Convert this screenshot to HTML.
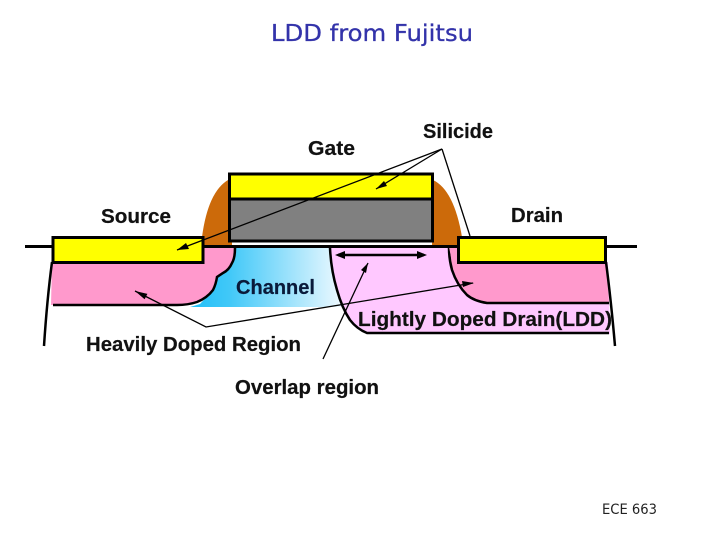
<!DOCTYPE html>
<html><head><meta charset="utf-8"><style>
html,body{margin:0;padding:0;background:#fff}
svg{display:block}
text{font-family:"Liberation Sans",sans-serif}
.l{font-size:20px;font-weight:bold;fill:#111;stroke:#111;stroke-width:.2}
</style></head><body>
<svg width="720" height="540" viewBox="0 0 720 540" xmlns="http://www.w3.org/2000/svg">
<defs>
<linearGradient id="ch" x1="0" x2="1" y1="0" y2="0"><stop offset="0" stop-color="#22c0f8"/><stop offset=".25" stop-color="#40c8f8"/><stop offset="1" stop-color="#f2faff"/></linearGradient>
</defs>
<text x="271" y="41" font-size="23" textLength="202" lengthAdjust="spacingAndGlyphs" style="font-family:'DejaVu Sans',sans-serif;stroke:#3333aa;stroke-width:.3" fill="#3333aa">LDD from Fujitsu</text>
<text x="602" y="514" font-size="14" textLength="55" lengthAdjust="spacingAndGlyphs" style="font-family:'DejaVu Sans',sans-serif" fill="#222">ECE 663</text>

<g style="filter:blur(.35px)">
<!-- channel -->
<path d="M190 307 L200 304 L213 290 L217 277 L232 263 L235 248 L333 248 L345 307 Z" fill="url(#ch)"/>
<!-- LDD -->
<path d="M330 248 L450 248 L608 262 L610 334 L367 334 Q357 329 350 320 Q342 308 337 290 Q331 270 330 248Z" fill="#ffc8ff"/>
<!-- source pink -->
<path d="M52 262 L204 262 L204 247 L235 248 Q235 258 232 263 Q229 270 223 273 L217 277 Q216 284 213 290 Q207 298 197 302 Q188 305 177 305 L51 305 Z" fill="#ff99cc"/>
<path d="M235 248 Q235 258 232 263 Q229 270 223 273 L217 277 Q216 284 213 290 Q207 298 197 302 Q188 305 177 305 L53 305" fill="none" stroke="#000" stroke-width="2.500"/>
<!-- drain pink -->
<path d="M449 248 L606 262 L609 303 L487 303 Q474 301 467 295 Q457 285 452 270 Q449 259 449 248Z" fill="#ff99cc"/>
<path d="M449 248 Q449 259 452 270 Q457 285 467 295 Q474 301 487 303 L609 303" fill="none" stroke="#000" stroke-width="2.500"/>
<path d="M449 247 L460 247 L460 262 L452 262 Z" fill="#ff99cc"/>
<!-- LDD outline -->
<path d="M330 248 Q331 270 337 290 Q342 308 350 320 Q357 329 367 333 L609 333" fill="none" stroke="#000" stroke-width="2.500"/>
<!-- spacers -->
<path d="M228 180 Q208 192 202 237 L204 246 L232 246 L232 180Z" fill="#cc6a0a"/>
<path d="M433 180 Q454 190 462 237 L459 246 L432 246 Z" fill="#cc6a0a"/>
<!-- surface -->
<path d="M25 246.500H52 M203 246.500H458 M606 246.500H637" stroke="#000" stroke-width="3"/>
<!-- wells -->
<path d="M52 262 Q47 300 44 346" fill="none" stroke="#000" stroke-width="2.500"/>
<path d="M606 262 Q611 300 615 346" fill="none" stroke="#000" stroke-width="2.500"/>
<!-- gate -->
<rect x="229.500" y="174" width="203" height="25" fill="#ffff00" stroke="#000" stroke-width="3"/>
<rect x="229.500" y="199" width="203" height="42" fill="#808080" stroke="#000" stroke-width="3"/>
<!-- silicide S/D -->
<rect x="53" y="237.500" width="150" height="25" fill="#ffff00" stroke="#000" stroke-width="3"/>
<rect x="458.500" y="237.500" width="147" height="25" fill="#ffff00" stroke="#000" stroke-width="3"/>
<!-- labels -->
<text class="l" x="308" y="155" textLength="47" lengthAdjust="spacingAndGlyphs">Gate</text>
<text class="l" x="423" y="138" textLength="70" lengthAdjust="spacingAndGlyphs">Silicide</text>
<text class="l" x="101" y="223" textLength="70" lengthAdjust="spacingAndGlyphs">Source</text>
<text class="l" x="511" y="222" textLength="52" lengthAdjust="spacingAndGlyphs">Drain</text>
<text class="l" x="236" y="294" textLength="79" lengthAdjust="spacingAndGlyphs" style="fill:#0a1a3a;stroke:#0a1a3a">Channel</text>
<text class="l" x="358" y="326" textLength="254" lengthAdjust="spacingAndGlyphs">Lightly Doped Drain(LDD)</text>
<text class="l" x="86" y="351" textLength="215" lengthAdjust="spacingAndGlyphs">Heavily Doped Region</text>
<text class="l" x="235" y="394" textLength="144" lengthAdjust="spacingAndGlyphs">Overlap region</text>
<!-- connectors -->
<g fill="none" stroke="#000" stroke-width="1.300">
<path d="M442 149 L177 250"/><path d="M442 149 L376 189"/><path d="M442 149 L470 236"/>
<path d="M135 291 L206 327 L473 283"/>
<path d="M323 359 L368 263"/>
</g>
<path d="M338 255 H424" stroke="#000" stroke-width="2.500"/>
<g fill="#000">
<path d="M177 250 L186 243 L189 249Z"/>
<path d="M376 189 L384 181 L387 186Z"/>
<path d="M135 291 L147.400 293.900 L144.600 299.300Z"/>
<path d="M474 283 L462 281 L463 287Z"/>
<path d="M368 263 L361 270 L366 273Z"/>
<path d="M335 255 L345 251 L345 259Z"/>
<path d="M427 255 L417 251 L417 259Z"/>
</g>
</g>
</svg>
</body></html>
